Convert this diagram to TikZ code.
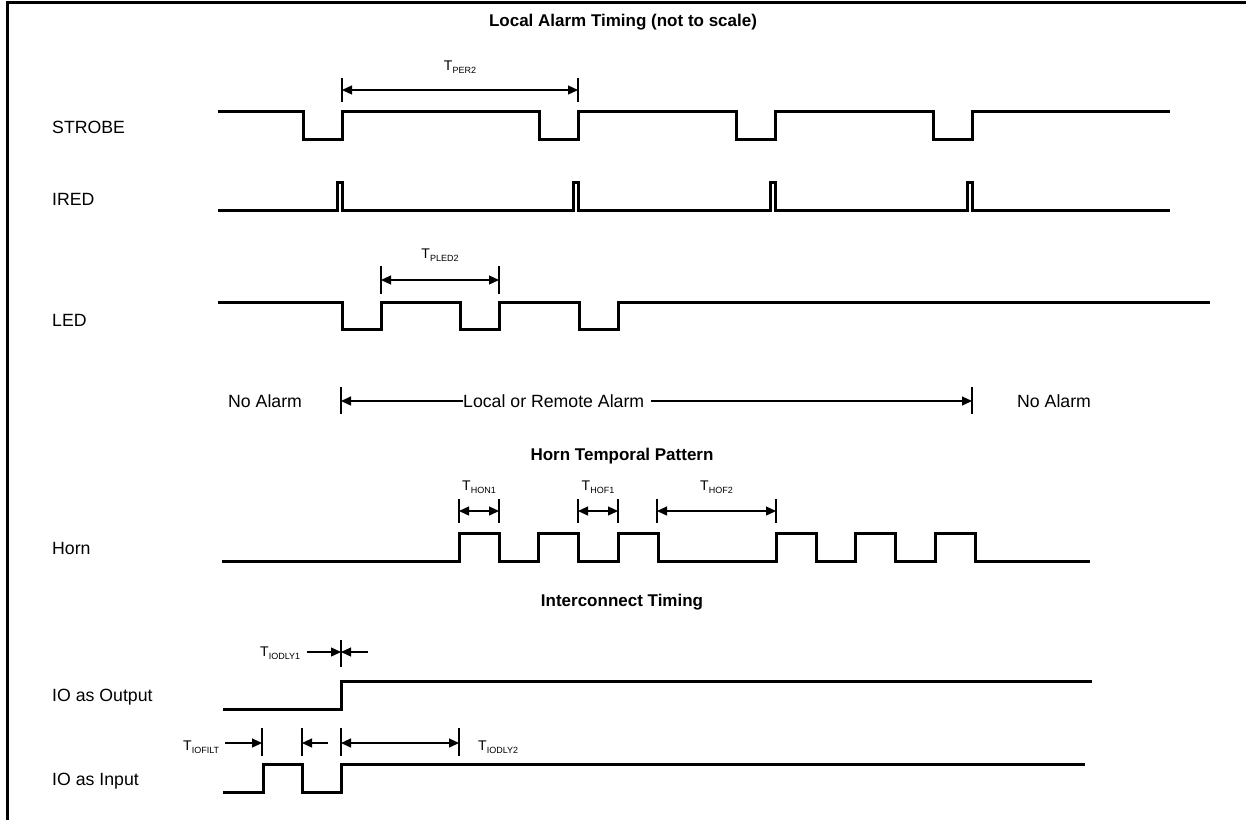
\documentclass[tikz,border=0pt]{standalone}
\usepackage{fontspec}
\setmainfont{Liberation Sans}
\usetikzlibrary{arrows.meta}
\tikzset{
  sig/.style={line width=3pt},
  dimtick/.style={line width=2.5pt},
  dimline/.style={line width=1.2pt},
  dimarrow/.style={dimline, -{Triangle[length=10pt,width=9pt]}},
  dimboth/.style={dimline, {Triangle[length=10pt,width=9pt]}-{Triangle[length=10pt,width=9pt]}},
  lab/.style={anchor=west, inner sep=0pt, font=\fontsize{17.7}{20}\selectfont},
  ttl/.style={inner sep=0pt, font=\bfseries\fontsize{17}{20}\selectfont},
  tlab/.style={inner sep=0pt, font=\fontsize{14}{16}\selectfont}
}
\newcommand{\tsub}[1]{T\raisebox{-3pt}{\fontsize{9}{9}\selectfont #1}}
\begin{document}
\begin{tikzpicture}[x=1pt, y=-1pt]
	\useasboundingbox (0,0) rectangle (1246,820);
	\draw[line width=3pt] (7,820) -- (7,2) -- (1246,2);
	% titles
	\node[ttl] (title) at (623,22) {Local Alarm Timing (not to scale)};
	\node[ttl] (horntitle) at (622,456) {Horn Temporal Pattern};
	\node[ttl] (iotitle) at (622,602) {Interconnect Timing};
	% signal names
	\node[lab] (strobe) at (52,127) {STROBE};
	\node[lab] (ired) at (52,199) {IRED};
	\node[lab] (led) at (52,320) {LED};
	\node[lab] (horn) at (52,548) {Horn};
	\node[lab] (ioout) at (52,697) {IO as Output};
	\node[lab] (ioin) at (52,781) {IO as Input};
	% waveforms
	\draw[sig] (218,111) foreach \x in {303,539,736,933} { -- (\x,111) -- (\x,139) -- (\x+39,139) -- (\x+39,111) } -- (1170,111);
	\draw[sig] (218,210) foreach \x in {337,573,770,967} { -- (\x,210) -- (\x,182) -- (\x+5,182) -- (\x+5,210) } -- (1170,210);
	\draw[sig] (218,302) foreach \x in {342,460,579} { -- (\x,302) -- (\x,329) -- (\x+39,329) -- (\x+39,302) } -- (1210,302);
	\draw[sig] (222,561) foreach \x in {459,538,618,776,855,935} { -- (\x,561) -- (\x,533) -- (\x+40,533) -- (\x+40,561) } -- (1090,561);
	\draw[sig] (223,709) -- (341,709) -- (341,681) -- (1092,681);
	\draw[sig] (223,792) -- (263,792) -- (263,764) -- (302,764) -- (302,792) -- (341,792) -- (341,764) -- (1085,764);
	% T_PER2
	\foreach \x in {342,578} \draw[dimtick] (\x,78) -- (\x,102);
	\coordinate (per2a) at (342,90);
	\coordinate (per2b) at (578,90);
	\draw[dimboth] (per2a) -- (per2b) node[tlab, midway, above=16pt] (tper2) {\tsub{PER2}};
	% T_PLED2
	\foreach \x in {381,499} \draw[dimtick] (\x,266) -- (\x,294);
	\coordinate (pled2a) at (381,280);
	\coordinate (pled2b) at (499,280);
	\draw[dimboth] (pled2a) -- (pled2b) node[tlab, midway, above=18pt] (tpled2) {\tsub{PLED2}};
	% alarm span
	\node[lab] (noalarmL) at (228,401) {No Alarm};
	\node[lab] (noalarmR) at (1017,401) {No Alarm};
	\node[lab] (alarm) at (463,401) {Local or Remote Alarm};
	\foreach \x in {341,972} \draw[dimtick] (\x,387) -- (\x,414);
	\coordinate (alarmL) at (341,401);
	\coordinate (alarmR) at (972,401);
	\draw[dimarrow] (alarm.west) -- (alarmL);
	\draw[dimarrow] ([xshift=7pt]alarm.east) -- (alarmR);
	% horn timings
	\foreach \x in {459,499,578,618,657,776} \draw[dimtick] (\x,499) -- (\x,523);
	\coordinate (hon1a) at (459,511);
	\coordinate (hon1b) at (499,511);
	\coordinate (hof1a) at (578,511);
	\coordinate (hof1b) at (618,511);
	\coordinate (hof2a) at (657,511);
	\coordinate (hof2b) at (776,511);
	\draw[dimboth] (hon1a) -- (hon1b) node[tlab, midway, above=17pt] (thon1) {\tsub{HON1}};
	\draw[dimboth] (hof1a) -- (hof1b) node[tlab, midway, above=17pt] (thof1) {\tsub{HOF1}};
	\draw[dimboth] (hof2a) -- (hof2b) node[tlab, midway, above=17pt] (thof2) {\tsub{HOF2}};
	% interconnect timings
	\draw[dimtick] (341,640) -- (341,667);
	\node[tlab, anchor=west] (tiodly1) at (260,653) {\tsub{IODLY1}};
	\coordinate (dly1) at (341,652);
	\coordinate (dly1r) at (368,652);
	\draw[dimarrow] ([xshift=7pt]tiodly1.east |- dly1) -- (dly1);
	\draw[dimarrow] (dly1r) -- (dly1);
	\foreach \x in {262,302,341,459} \draw[dimtick] (\x,728) -- (\x,756);
	\node[tlab, anchor=west] (tiofilt) at (183,747) {\tsub{IOFILT}};
	\node[tlab, anchor=west] (tiodly2) at (478,747) {\tsub{IODLY2}};
	\coordinate (filta) at (262,743);
	\coordinate (filtb) at (302,743);
	\coordinate (filtr) at (328,743);
	\coordinate (dly2a) at (341,743);
	\coordinate (dly2b) at (459,743);
	\draw[dimarrow] ([xshift=6pt]tiofilt.east |- filta) -- (filta);
	\draw[dimarrow] (filtr) -- (filtb);
	\draw[dimboth] (dly2a) -- (dly2b);
\end{tikzpicture}
\end{document}
